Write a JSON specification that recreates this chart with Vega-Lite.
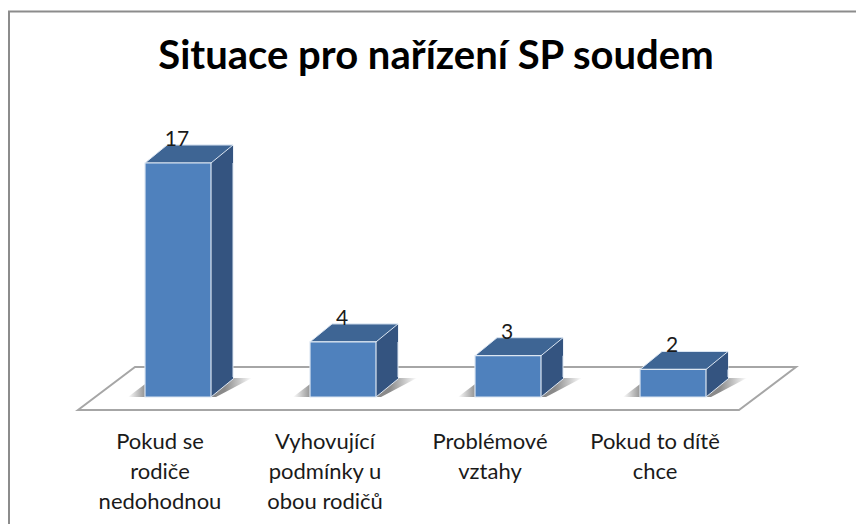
{
"$schema":"https://vega.github.io/schema/vega-lite/v6.json",
"width":856,"height":524,"autosize":{"type":"none"},"padding":0,"background":"white",
"config":{"view":{"stroke":null},"font":"Lato"},
"title":{"text":"Situace pro nařízení SP soudem","font":"Lato","fontWeight":"bold","fontSize":40,"color":"#000000","anchor":"middle","baseline":"alphabetic","offset":-72,"dy":37,"dx":8},
"data":{"values":[
{"situace":"Pokud se rodiče nedohodnou","pocet":17},
{"situace":"Vyhovující podmínky u obou rodičů","pocet":4},
{"situace":"Problémové vztahy","pocet":3},
{"situace":"Pokud to dítě chce","pocet":2}]},
"encoding":{
"x":{"field":"situace","type":"nominal","sort":null,"title":null,
"scale":{"range":[95.5,755.5],"paddingInner":0.6,"paddingOuter":0.3},
"axis":{"orient":"bottom","offset":-93,"ticks":false,"domain":false,"labelAngle":0,"labelPadding":0,"labelOffset":-18,"labelFont":"Lato","labelFontSize":22,"labelColor":"#1a1a1a","labelLineHeight":30,"labelOverlap":false,"labelLimit":0,"labelExpr":"{'Pokud se rodiče nedohodnou':['Pokud se','rodiče','nedohodnou'],'Vyhovující podmínky u obou rodičů':['Vyhovující','podmínky u','obou rodičů'],'Problémové vztahy':['Problémové','vztahy'],'Pokud to dítě chce':['Pokud to dítě','chce']}[datum.label]"}},
"y":{"field":"pocet","type":"quantitative","title":null,"axis":null,"scale":{"domain":[0,17],"range":[397,163]}}
},
"layer":[
{"transform":[{"filter":"datum.pocet==17"}],"mark":{"type":"point","filled":false,"size":4,"opacity":1,"stroke":"#8C8C8C","strokeWidth":2,"shape":"M-169,127 L-169,-385.5 L678,-385.5"},"encoding":{"y":{"datum":0}}},
{"transform":[{"filter":"datum.pocet==17"}],"mark":{"type":"point","filled":true,"size":4,"opacity":1,"fill":"white","stroke":"#A6A6A6","strokeWidth":2,"shape":"M-100,13 L-43,-30 L618,-30 L561,13 Z"},"encoding":{"y":{"datum":0}}},
{"mark":{"type":"point","filled":true,"size":4,"opacity":1,"strokeWidth":0,"shape":"M-50,0 L-25,-19 L74,-19 L38,0 Z","fill":{"gradient":"linear","x1":0,"x2":1,"y1":0,"y2":0,"stops":[{"offset":0,"color":"#ffffff"},{"offset":0.15,"color":"#8a8a8a"},{"offset":0.78,"color":"#8a8a8a"},{"offset":1,"color":"#ffffff"}]}},"encoding":{"y":{"datum":0}}},
{"mark":{"type":"bar","color":"#345480","stroke":"#DCE6F2","strokeWidth":1,"xOffset":22,"x2Offset":22,"yOffset":-18,"y2Offset":-18}},
{"mark":{"type":"point","filled":true,"size":4,"opacity":1,"fill":"#345480","strokeWidth":0,"shape":"M33,0 L55,-18 L55,-20 L33,-20 Z"},"encoding":{"y":{"datum":0}}},
{"mark":{"type":"point","filled":false,"size":4,"opacity":1,"stroke":"#DCE6F2","strokeWidth":1,"shape":"M33,0 L55,-18"},"encoding":{"y":{"datum":0}}},
{"mark":{"type":"point","filled":true,"size":4,"opacity":1,"fill":"#345480","strokeWidth":0,"shape":"M33,0 L55,-18 L55,0 Z"}},
{"mark":{"type":"point","filled":true,"size":4,"opacity":1,"fill":"#3E6594","stroke":"#DCE6F2","strokeWidth":1,"shape":"M-33,0 L-11,-18 L55,-18 L33,0 Z"}},
{"mark":{"type":"bar","color":"#4F81BD","stroke":"#DCE6F2","strokeWidth":1.2}},
{"mark":{"type":"text","font":"Lato","fontSize":21,"color":"#1a1a1a","baseline":"alphabetic","dy":-17,"dx":-1},"encoding":{"text":{"field":"pocet","type":"quantitative"}}}
]
}
